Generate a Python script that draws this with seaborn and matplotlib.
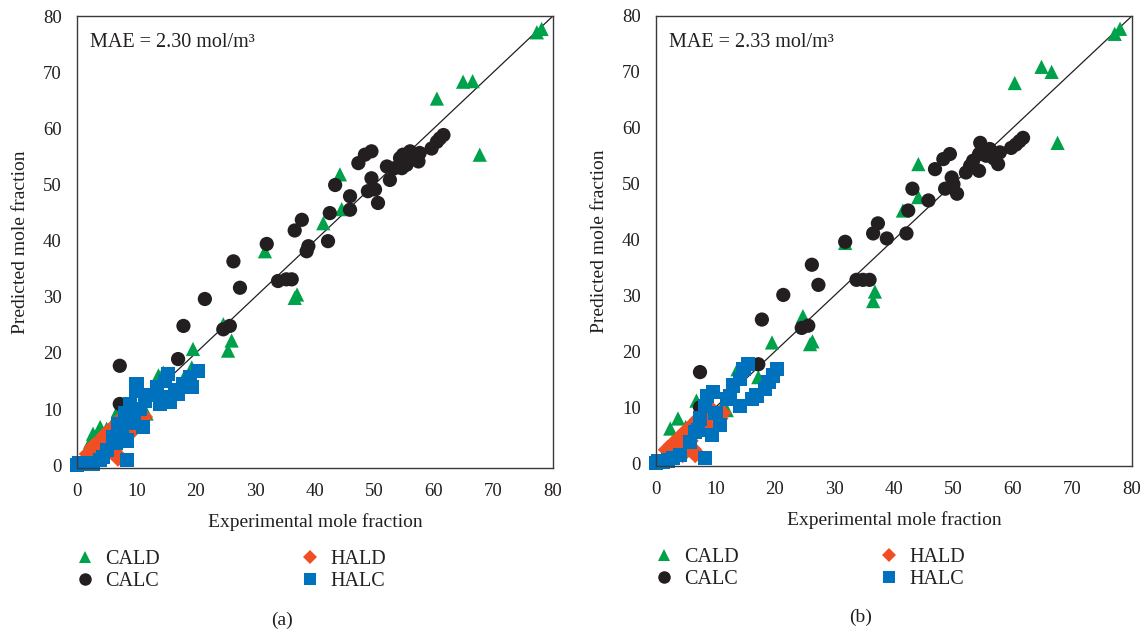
import matplotlib
matplotlib.use("Agg")
import matplotlib.pyplot as plt
from matplotlib.lines import Line2D
import seaborn as sns
import pandas as pd

# panel (a)
a_cald_x = [77.3, 78.1, 64.9, 66.5, 60.5, 67.7, 44.2, 44.5, 41.4, 31.6, 36.6, 37.0, 24.6, 26.0, 25.4,
            19.5, 19.3, 13.7, 17.9, 11.7, 3.9, 2.7, 2.2, 6.9, 1.7, 14.5, 10.5, 8.5, 5.0, 4.5]
a_cald_y = [77.1, 77.7, 68.3, 68.4, 65.3, 55.3, 51.8, 45.6, 43.1, 38.1, 29.8, 30.4, 25.1, 22.2, 20.4,
            20.7, 17.4, 16.0, 15.4, 9.2, 6.8, 5.6, 4.1, 9.8, 1.5, 16.5, 10.0, 8.0, 6.5, 5.5]
a_calc_x = [61.6, 61.0, 60.5, 59.6, 57.6, 56.0, 54.8, 54.3, 55.4, 54.6, 53.4, 52.1, 52.6, 56.5, 57.4,
            49.5, 48.9, 50.6, 45.9, 45.9, 43.4, 47.3, 49.5, 48.4, 42.5, 37.8, 42.2, 36.6, 38.9, 31.9,
            38.6, 26.3, 27.4, 21.5, 33.8, 35.2, 36.1, 17.9, 24.6, 25.7, 17.0, 7.2, 7.2, 50.1]
a_calc_y = [58.8, 58.2, 57.6, 56.4, 55.6, 55.9, 55.3, 54.7, 53.5, 52.9, 52.9, 53.2, 50.8, 54.7, 54.1,
            51.1, 48.8, 46.7, 47.9, 45.5, 49.9, 53.8, 55.9, 55.3, 44.9, 43.7, 39.9, 41.8, 39.0, 39.4,
            38.1, 36.3, 31.6, 29.6, 32.8, 33.1, 33.1, 24.8, 24.2, 24.8, 18.9, 17.7, 10.9, 49.1]
a_hald_x = [2.0, 2.8, 3.5, 4.2, 5.0, 5.8, 6.5, 7.2, 8.0, 8.8, 9.5, 10.5, 6.0, 6.9, 4.5, 3.0, 9.0, 5.5, 11.1]
a_hald_y = [2.0, 3.2, 3.6, 4.5, 5.5, 6.0, 7.0, 7.8, 8.3, 8.6, 9.2, 8.0, 2.5, 1.5, 1.8, 1.0, 6.0, 4.0, 8.6]
a_halc_x = [0.0, 0.3, 1.0, 2.0, 2.7, 3.9, 4.4, 8.4, 5.0, 6.1, 6.9, 8.1, 8.9, 10.0, 10.0, 11.1, 8.4, 9.5,
            11.4, 13.4, 14.5, 13.9, 15.3, 15.6, 16.5, 17.9, 19.0, 20.4, 19.3, 17.0, 7.5, 9.0, 12.5, 14.8,
            10.5, 6.5]
a_halc_y = [0.0, 0.3, 0.2, 0.4, 0.3, 0.9, 1.5, 0.9, 2.7, 5.0, 7.4, 9.2, 10.9, 14.5, 13.3, 6.8, 4.4, 8.6,
            11.5, 13.9, 12.1, 10.9, 16.3, 11.2, 13.3, 14.5, 15.7, 16.8, 13.9, 12.7, 6.0, 7.5, 12.5, 15.0,
            10.0, 4.0]

# panel (b)
b_cald_x = [77.1, 78.0, 64.8, 66.5, 60.3, 67.5, 44.1, 44.1, 41.5, 31.8, 36.8, 36.5, 24.7, 25.9, 26.3,
            19.5, 13.7, 17.2, 6.8, 3.7, 2.4, 1.7, 11.9, 14.5, 9.0, 5.0]
b_cald_y = [76.8, 77.7, 70.9, 70.0, 68.0, 57.3, 53.5, 47.6, 45.2, 39.4, 30.7, 29.0, 26.3, 21.3, 21.8,
            21.6, 16.8, 15.4, 11.2, 8.0, 6.2, 2.0, 9.5, 17.0, 9.0, 6.5]
b_calc_x = [61.7, 61.1, 60.5, 59.7, 57.8, 57.5, 54.5, 56.1, 54.3, 53.3, 52.8, 54.3, 52.1, 49.7, 50.0,
            48.6, 50.6, 49.4, 48.3, 46.9, 43.1, 45.8, 42.4, 42.1, 37.3, 36.5, 38.8, 31.8, 26.2, 27.3,
            21.4, 33.7, 34.8, 35.9, 17.8, 24.5, 25.6, 17.2, 7.4, 7.4, 55.5, 56.8]
b_calc_y = [58.2, 57.6, 57.0, 56.4, 55.6, 53.5, 57.3, 56.2, 55.3, 54.1, 53.2, 52.3, 52.0, 51.1, 49.9,
            49.1, 48.2, 55.3, 54.4, 52.6, 49.1, 47.0, 45.2, 41.1, 42.9, 41.1, 40.2, 39.6, 35.5, 31.9,
            30.1, 32.8, 32.8, 32.8, 25.7, 24.2, 24.6, 17.7, 16.3, 10.0, 55.0, 54.5]
b_hald_x = [2.0, 2.8, 3.5, 4.2, 5.0, 5.8, 6.5, 7.2, 8.0, 8.8, 9.5, 10.5, 6.0, 6.6, 4.5, 3.0, 9.0, 5.5, 11.0]
b_hald_y = [2.4, 3.2, 3.8, 4.6, 5.5, 6.2, 7.0, 7.8, 8.3, 8.6, 9.2, 8.0, 2.5, 1.8, 1.8, 1.2, 6.0, 4.0, 9.0]
b_halc_x = [0.0, 0.3, 1.2, 2.9, 4.0, 8.2, 5.7, 6.6, 7.4, 8.2, 9.6, 10.8, 9.4, 11.9, 13.0, 14.1, 14.7,
            15.5, 14.1, 16.1, 16.9, 18.3, 18.9, 19.7, 20.3, 8.6, 2.0, 7.0, 12.5, 10.0]
b_halc_y = [0.0, 0.4, 0.2, 0.9, 1.5, 0.9, 3.8, 5.6, 8.0, 10.3, 12.7, 6.8, 5.0, 11.5, 13.9, 15.1, 16.8,
            17.7, 10.3, 11.5, 12.1, 13.3, 14.5, 15.7, 16.8, 12.0, 0.5, 6.0, 12.0, 9.0]

series = ["CALD", "CALC", "HALD", "HALC"]
colors = {"CALD": "#00a14b", "CALC": "#231f20", "HALD": "#f04e23", "HALC": "#0071bc"}
markers = {"CALD": "^", "CALC": "o", "HALD": "D", "HALC": "s"}

sns.set_style("white")
plt.rcParams["font.family"] = ["Liberation Serif", "DejaVu Serif"]
TXT = "#231f20"


def make_df(pairs):
    frames = []
    for name, (xs, ys) in zip(series, pairs):
        frames.append(pd.DataFrame({"exp": xs, "pred": ys, "series": name}))
    return pd.concat(frames, ignore_index=True)


def draw_panel(ax, df, mae, caption):
    ax.plot([0, 80], [0, 80], color=TXT, lw=0.9, zorder=1)
    sns.scatterplot(data=df, x="exp", y="pred", hue="series", style="series",
                    hue_order=series, style_order=series, palette=colors, markers=markers,
                    s=105, linewidth=0, alpha=1, legend=False, ax=ax, clip_on=False, zorder=2)
    ax.set_xlim(0, 80)
    ax.set_ylim(-0.5, 80)
    ax.set_xticks(range(0, 81, 10))
    ax.set_yticks(range(0, 81, 10))
    ax.tick_params(length=0, labelsize=13.5, labelcolor=TXT, pad=11)
    for sp in ax.spines.values():
        sp.set_visible(True)
        sp.set_color("#3a3a3a")
        sp.set_linewidth(1.0)
    ax.set_xlabel("Experimental mole fraction", fontsize=14, color=TXT, labelpad=9)
    ax.set_ylabel("Predicted mole fraction", fontsize=14, color=TXT, labelpad=10)
    ax.text(0.027, 0.942, mae, transform=ax.transAxes, fontsize=14.5, color=TXT, va="center")
    handles = [Line2D([], [], ls="", marker=markers[n], color=colors[n],
                      markersize=9 if n != "HALD" else 7, markeredgewidth=0) for n in series]
    ax.legend(handles, series, loc="upper left", bbox_to_anchor=(-0.005, -0.181), ncol=2,
              frameon=False, fontsize=14.5, handlelength=1.0, handletextpad=0.5,
              columnspacing=7.0, labelspacing=0.17, borderpad=0, borderaxespad=0,
              labelcolor=TXT)
    ax.text(caption[1], -0.337, caption[0], transform=ax.transAxes, fontsize=14,
            color=TXT, ha="center", va="center")


df_a = make_df([(a_cald_x, a_cald_y), (a_calc_x, a_calc_y), (a_hald_x, a_hald_y), (a_halc_x, a_halc_y)])
df_b = make_df([(b_cald_x, b_cald_y), (b_calc_x, b_calc_y), (b_hald_x, b_hald_y), (b_halc_x, b_halc_y)])

fig = plt.figure(figsize=(11.45, 6.33), dpi=100)
ax_a = fig.add_axes([0.0672, 0.2607, 0.4157, 0.714])
ax_b = fig.add_axes([0.5729, 0.2638, 0.4157, 0.711])

draw_panel(ax_a, df_a, "MAE = 2.30 mol/m³", ("(a)", 0.43))
draw_panel(ax_b, df_b, "MAE = 2.33 mol/m³", ("(b)", 0.43))

fig.savefig("out.png", dpi=100)
